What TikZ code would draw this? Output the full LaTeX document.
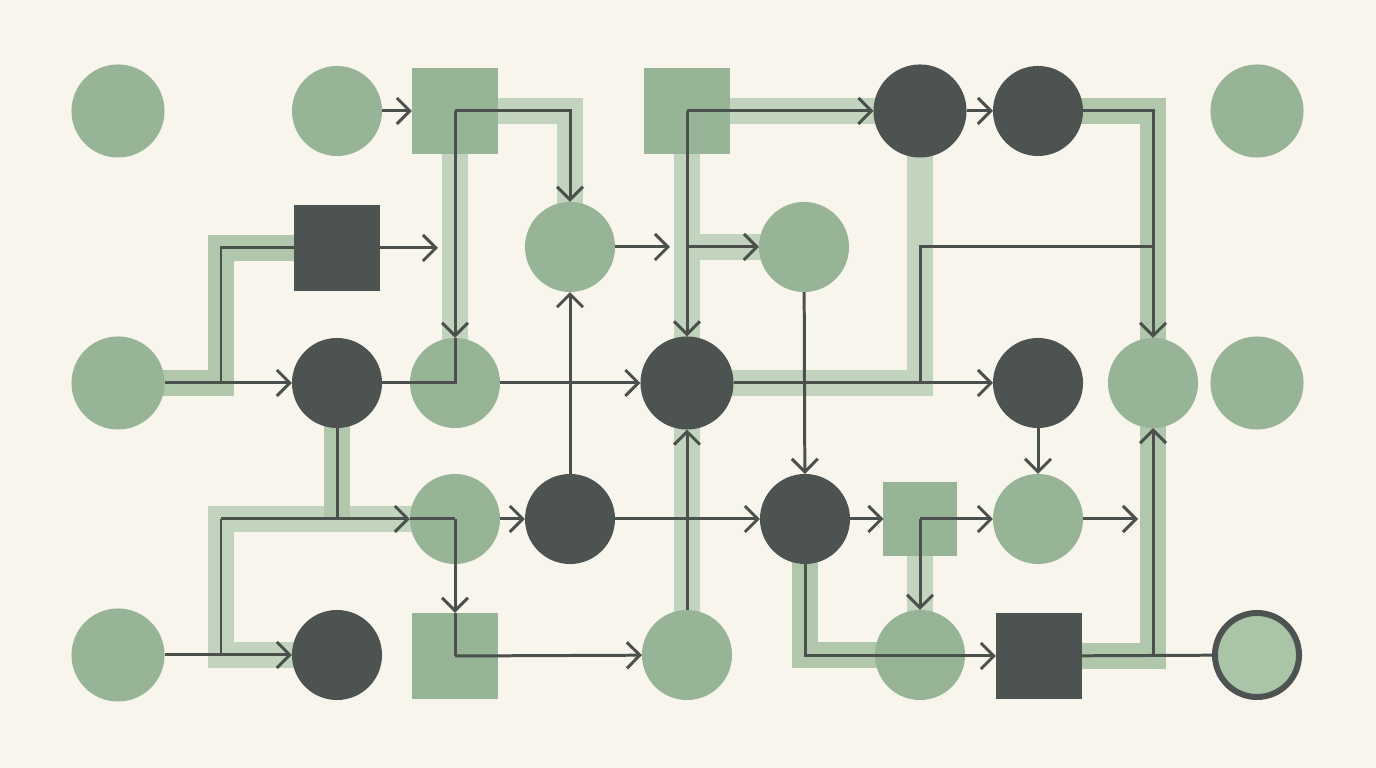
\documentclass[tikz,border=0pt]{standalone}
\usetikzlibrary{arrows.meta}
\definecolor{paper}{HTML}{F7F5EC}
\definecolor{sage}{HTML}{97B497}
\definecolor{sagepale}{HTML}{AAC4A8}
\definecolor{slate}{HTML}{4D5350}
\definecolor{ink}{HTML}{4A504C}
\definecolor{bandlight}{HTML}{C2D3BE}
\definecolor{bandmid}{HTML}{B0C7AC}
\pgfdeclarelayer{paperlayer}
\pgfdeclarelayer{bandlayer}
\pgfsetlayers{paperlayer,bandlayer,main}
\begin{document}
\begin{tikzpicture}[x=0.01cm,y=-0.01cm,
  >={Straight Barb[length=1.3mm,width=2.6mm]},
  gdot/.style={circle,fill=sage,minimum size=0.9cm,inner sep=0pt,outer sep=0pt},
  ddot/.style={circle,fill=slate,minimum size=0.9cm,inner sep=0pt,outer sep=0pt},
  big/.style={minimum size=0.93cm},
  gbox/.style={rectangle,fill=sage,minimum size=0.86cm,inner sep=0pt,outer sep=0pt},
  dbox/.style={rectangle,fill=slate,minimum size=0.86cm,inner sep=0pt,outer sep=0pt},
  ring/.style={circle,fill=sagepale,draw=slate,line width=1.7pt,minimum size=0.84cm,inner sep=0pt,outer sep=0pt},
  link/.style={draw=ink,line width=0.85pt},
  band/.style={draw=bandmid,line width=7.4pt},
  bandsoft/.style={draw=bandlight,line width=7.4pt}]
\begin{pgfonlayer}{paperlayer}
\fill[paper] (0,0) rectangle (1376,768);
\end{pgfonlayer}
\useasboundingbox (0,0) rectangle (1376,768);
% row 1
\node[gdot,big] (a1) at (118,111) {};
\node[gdot] (b1) at (337,111) {};
\node[gbox] (c1) at (455,111) {};
\node[gbox] (e1) at (687,111) {};
\node[ddot,big] (g1) at (920,111) {};
\node[ddot] (h1) at (1038,111) {};
\node[gdot,big] (j1) at (1257,111) {};
% row 2
\node[dbox] (b2) at (337,248) {};
\node[gdot] (d2) at (570,247) {};
\node[gdot] (f2) at (804,247) {};
% row 3
\node[gdot,big] (a3) at (118,383) {};
\node[ddot] (b3) at (337,383) {};
\node[gdot] (c3) at (455,383) {};
\node[ddot,big] (e3) at (687,383) {};
\node[ddot] (h3) at (1038,383) {};
\node[gdot] (i3) at (1153,383) {};
\node[gdot,big] (j3) at (1257,383) {};
% row 4
\node[gdot] (c4) at (455,519) {};
\node[ddot] (d4) at (570,519) {};
\node[ddot] (f4) at (805,519) {};
\node[gbox,minimum size=0.73cm] (g4) at (920,519) {};
\node[gdot] (h4) at (1038,519) {};
% row 5
\node[gdot,big] (a5) at (118,655) {};
\node[ddot] (b5) at (337,655) {};
\node[gbox] (c5) at (455,656) {};
\node[gdot] (e5) at (687,655) {};
\node[gdot] (g5) at (920,655) {};
\node[dbox] (h5) at (1039,656) {};
\node[ring] (j5) at (1257,655) {};
% junctions and free ends
\coordinate (ka3) at (221,383);
\coordinate (ka4) at (221,519);
\coordinate (ka5) at (221,655);
\coordinate (b4) at (337,519);
\coordinate (e2) at (687,247);
\coordinate (g2) at (920,247);
\coordinate (g3) at (920,383);
\coordinate (i2) at (1153,247);
\coordinate (i5) at (1153,656);
\coordinate (tb2) at (438,248);
\coordinate (td2) at (670,247);
\coordinate (th4) at (1138,519);
% highlighted routes
\begin{pgfonlayer}{bandlayer}
\draw[bandsoft] (c1.center) -| (d2.center);
\draw[bandsoft] (c1.center) -- (c3.center);
\draw[band] (a3.center) -- (ka3) |- (b2.center);
\draw[bandsoft] (c4.center) -- (ka4) -- (ka5) -- (b5.center);
\draw[band] (b3.center) -- (b4);
\draw[bandsoft] (e1.center) -- (g1.center);
\draw[bandsoft] (e1.center) -- (e5.center);
\draw[bandsoft] (e2) -- (f2.center);
\draw[bandsoft] (g1.center) -- (g3) -- (e3.center);
\draw[band] (h1.center) -| (i3.center);
\draw[bandsoft] (g4.center) -- (g5.center);
\draw[band] (f4.center) |- (g5.center);
\draw[band] (h5.center) -| (i3.center);
\end{pgfonlayer}
% connectors
\draw[link,->] (b1) -- (c1);
\draw[link,->] (c1.center) -| (d2);
\draw[link,->] (c1.center) -- (c3);
\draw[link] (c3.north) -- (c3.center) -- (b3);
\draw[link,->] (c3) -- (e3);
\draw[link,->] (a3) -- (b3);
\draw[link] (ka3) |- (b2);
\draw[link,->] (b2) -- (tb2);
\draw[link,->] (d4) -- (d2);
\draw[link,->] (d2) -- (td2);
\draw[link,->] (e1.center) -- (g1);
\draw[link,->] (e1.center) -- (e3);
\draw[link,->] (e2) -- (f2);
\draw[link,->] (g1) -- (h1);
\draw[link,->] (h1) -| (i3);
\draw[link,->] (e3) -- (h3);
\draw[link] (i2) -- (g2) -- (g3);
\draw[link,->] (f2) -- (f4);
\draw[link,->] (h3) -- (h4);
\draw[link] (b3) -- (b4);
\draw[link,->] (ka4) -- (c4);
\draw[link] (c4.west) -- (c4.center);
\draw[link,->] (c4.center) -- (c5);
\draw[link] (c5.north) -- (c5.center);
\draw[link,->] (c5.center) -- (e5);
\draw[link] (ka4) -- (ka5);
\draw[link,->] (a5) -- (b5);
\draw[link,->] (c4) -- (d4);
\draw[link,->] (d4) -- (f4);
\draw[link,->] (f4) -- (g4);
\draw[link,->] (g4.center) -- (h4);
\draw[link,->] (g4.center) -- (g5);
\draw[link,->] (h4) -- (th4);
\draw[link,->] (e5) -- (e3);
\draw[link,->] (f4) |- (h5);
\draw[link] (h5) -- (j5);
\draw[link,->] (i5) -- (i3);
\end{tikzpicture}
\end{document}
